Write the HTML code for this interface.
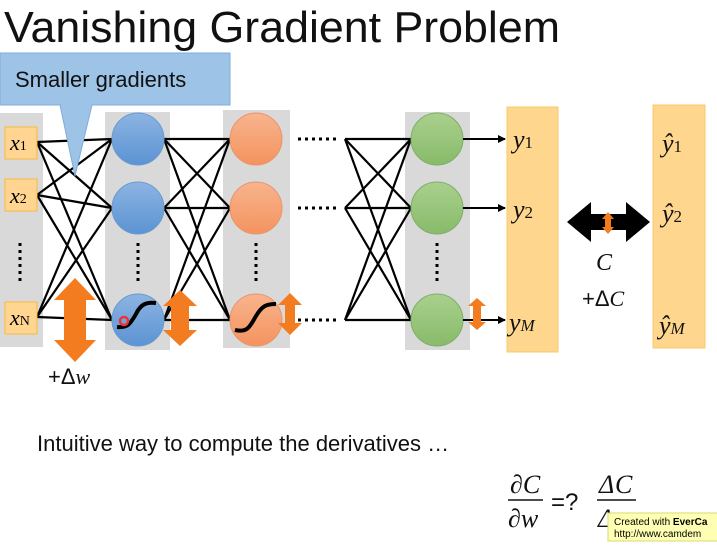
<!DOCTYPE html><html><head><meta charset="utf-8"><style>html,body{margin:0;padding:0;background:#fff}svg{display:block}text{font-family:"Liberation Sans",sans-serif}.m,.m text{font-family:"Liberation Serif",serif;font-style:italic}</style></head><body>
<svg id="s" width="717" height="547" viewBox="0 0 717 547" xmlns="http://www.w3.org/2000/svg">
<defs><marker id="a" markerWidth="8" markerHeight="8" refX="7" refY="4" orient="auto" markerUnits="userSpaceOnUse"><path d="M0,0 L8,4 L0,8 z" fill="#000"/></marker>
<linearGradient id="gb" x1="0" y1="0" x2="0" y2="1"><stop offset="0" stop-color="#8db4e2"/><stop offset="1" stop-color="#5b93d3"/></linearGradient>
<linearGradient id="go" x1="0" y1="0" x2="0" y2="1"><stop offset="0" stop-color="#f8b48e"/><stop offset="1" stop-color="#f4935e"/></linearGradient>
<linearGradient id="gg" x1="0" y1="0" x2="0" y2="1"><stop offset="0" stop-color="#a9d08e"/><stop offset="1" stop-color="#88bb6a"/></linearGradient></defs>
<text x="4" y="42" font-size="44" textLength="556" lengthAdjust="spacingAndGlyphs" fill="#111">Vanishing Gradient Problem</text>
<rect x="0" y="113" width="43" height="234" fill="#d9d9d9"/>
<rect x="105" y="112" width="65" height="238" fill="#d9d9d9"/>
<rect x="223" y="110" width="67" height="238" fill="#d9d9d9"/>
<rect x="405" y="112" width="65" height="238" fill="#d9d9d9"/>
<g id="L" stroke="#000" stroke-width="2.2"></g>
<g fill="#ffd591" stroke="#f5b942"><rect x="5" y="127" width="32" height="32"/><rect x="5" y="179" width="32" height="32"/><rect x="5" y="302" width="32" height="32"/></g>
<text class="m" x="10" y="150" font-size="22">x<tspan font-size="14" font-style="normal">1</tspan></text>
<text class="m" x="10" y="203" font-size="22">x<tspan font-size="14" font-style="normal">2</tspan></text>
<text class="m" x="10" y="325" font-size="22">x<tspan font-size="14" font-style="normal">N</tspan></text>
<g fill="url(#gb)" stroke="#6a9bd0"><circle cx="138" cy="139" r="26"/><circle cx="138" cy="208" r="26"/><circle cx="138" cy="320" r="26"/></g>
<g fill="url(#go)" stroke="#e8956a"><circle cx="256" cy="139" r="26"/><circle cx="256" cy="208" r="26"/><circle cx="256" cy="320" r="26"/></g>
<g fill="url(#gg)" stroke="#7fae66"><circle cx="437" cy="139" r="26"/><circle cx="437" cy="208" r="26"/><circle cx="437" cy="320" r="26"/></g>
<g stroke="#000" stroke-width="3" stroke-dasharray="3 4"><line x1="20" y1="243" x2="20" y2="284"/><line x1="138" y1="243" x2="138" y2="284"/><line x1="256" y1="243" x2="256" y2="284"/><line x1="437" y1="243" x2="437" y2="284"/><line x1="298" y1="139" x2="338" y2="139"/><line x1="298" y1="208" x2="338" y2="208"/><line x1="298" y1="320" x2="338" y2="320"/><line x1="519" y1="248" x2="519" y2="290"/><line x1="667" y1="248" x2="667" y2="290"/></g>
<g stroke="#000" stroke-width="2" marker-end="url(#a)"><line x1="463" y1="139" x2="505" y2="139"/><line x1="463" y1="208" x2="505" y2="208"/><line x1="463" y1="320" x2="505" y2="320"/></g>
<rect x="507" y="107" width="51" height="245" fill="#fed68e" stroke="#f8c96a"/>
<rect x="653" y="105" width="52" height="243" fill="#fed68e" stroke="#f8c96a"/>
<g class="m" font-size="26" fill="#111"><text x="513" y="148">y<tspan font-size="17" font-style="normal">1</tspan></text><text x="513" y="218">y<tspan font-size="17" font-style="normal">2</tspan></text><text x="509" y="331">y<tspan font-size="17">M</tspan></text>
<text x="662" y="152">ŷ<tspan font-size="17" font-style="normal">1</tspan></text><text x="662" y="222">ŷ<tspan font-size="17" font-style="normal">2</tspan></text><text x="659" y="334">ŷ<tspan font-size="17">M</tspan></text>
<text x="596" y="270" font-size="24">C</text></g>
<text x="582" y="306" font-size="22" fill="#111">+Δ<tspan font-family="Liberation Serif" font-style="italic">C</tspan></text>
<path d="M567,222 L591,202 L591,214 L626,214 L626,202 L650,222 L626,242 L626,230 L591,230 L591,242Z" fill="#000"/>
<g fill="#f47c20">
<path d="M608,212 L614,219 L611,219 L611,227 L614,227 L608,234 L602,227 L605,227 L605,219 L602,219Z"/>
<path d="M75,278 L96,300 L86,300 L86,340 L96,340 L75,362 L54,340 L64,340 L64,300 L54,300Z"/>
<path d="M180,290 L197,306 L189,306 L189,330 L197,330 L180,346 L163,330 L171,330 L171,306 L163,306Z"/>
<path d="M290,293 L302,305 L295,305 L295,323 L302,323 L290,335 L278,323 L285,323 L285,305 L278,305Z"/>
<path d="M477,298 L486,306 L481,306 L481,322 L486,322 L477,330 L468,322 L473,322 L473,306 L468,306Z"/></g>
<path d="M117,327 C128,328 130,324 136,314 C141,303 148,302 156,303" stroke="#000" stroke-width="4" fill="none"/>
<circle cx="124" cy="321" r="4" fill="none" stroke="#e33" stroke-width="2.5"/>
<path d="M235,330 C248,333 250,326 256,316 C262,306 266,304 276,304" stroke="#000" stroke-width="4" fill="none"/>
<text x="48" y="384" font-size="22" fill="#111">+Δ<tspan font-family="Liberation Serif" font-style="italic">w</tspan></text>
<path d="M0,53 L230,53 L230,105 L92,105 L75,176 L60,105 L0,105Z" fill="#9dc3e6" stroke="#80acd8"/>
<text x="15" y="87" font-size="22" fill="#111">Smaller gradients</text>
<text x="37" y="451" font-size="22" fill="#111">Intuitive way to compute the derivatives …</text>
<g class="m" font-size="26" fill="#111"><text x="510" y="493">∂C</text><text x="508" y="527">∂w</text><text x="599" y="493" font-style="normal">Δ</text><text x="615" y="493">C</text><text x="598" y="527" font-style="normal">Δw</text></g>
<line x1="508" y1="500" x2="543" y2="500" stroke="#111" stroke-width="1.5"/><line x1="597" y1="500" x2="636" y2="500" stroke="#111" stroke-width="1.5"/>
<text x="551" y="510" font-size="24" fill="#111">=?</text>
<rect x="608" y="513" width="110" height="28" fill="#ffffb4" stroke="#d8d870"/>
<text x="614" y="525" font-size="10" font-family="Liberation Mono">Created with <tspan font-weight="bold">EverCa</tspan></text>
<text x="614" y="537" font-size="10" font-family="Liberation Mono">http://www.camdem</text>
</svg>
<script>
var g=document.getElementById('L'),ns='http://www.w3.org/2000/svg';
function c(xs,ys,xt,yt){ys.forEach(function(a){yt.forEach(function(b){var l=document.createElementNS(ns,'line');l.setAttribute('x1',xs);l.setAttribute('y1',a);l.setAttribute('x2',xt);l.setAttribute('y2',b);g.appendChild(l);});});}
c(37,[142,195,317],112,[139,208,320]);
c(164,[139,208,320],230,[139,208,320]);
c(345,[139,208,320],411,[139,208,320]);
</script>
</body></html>
